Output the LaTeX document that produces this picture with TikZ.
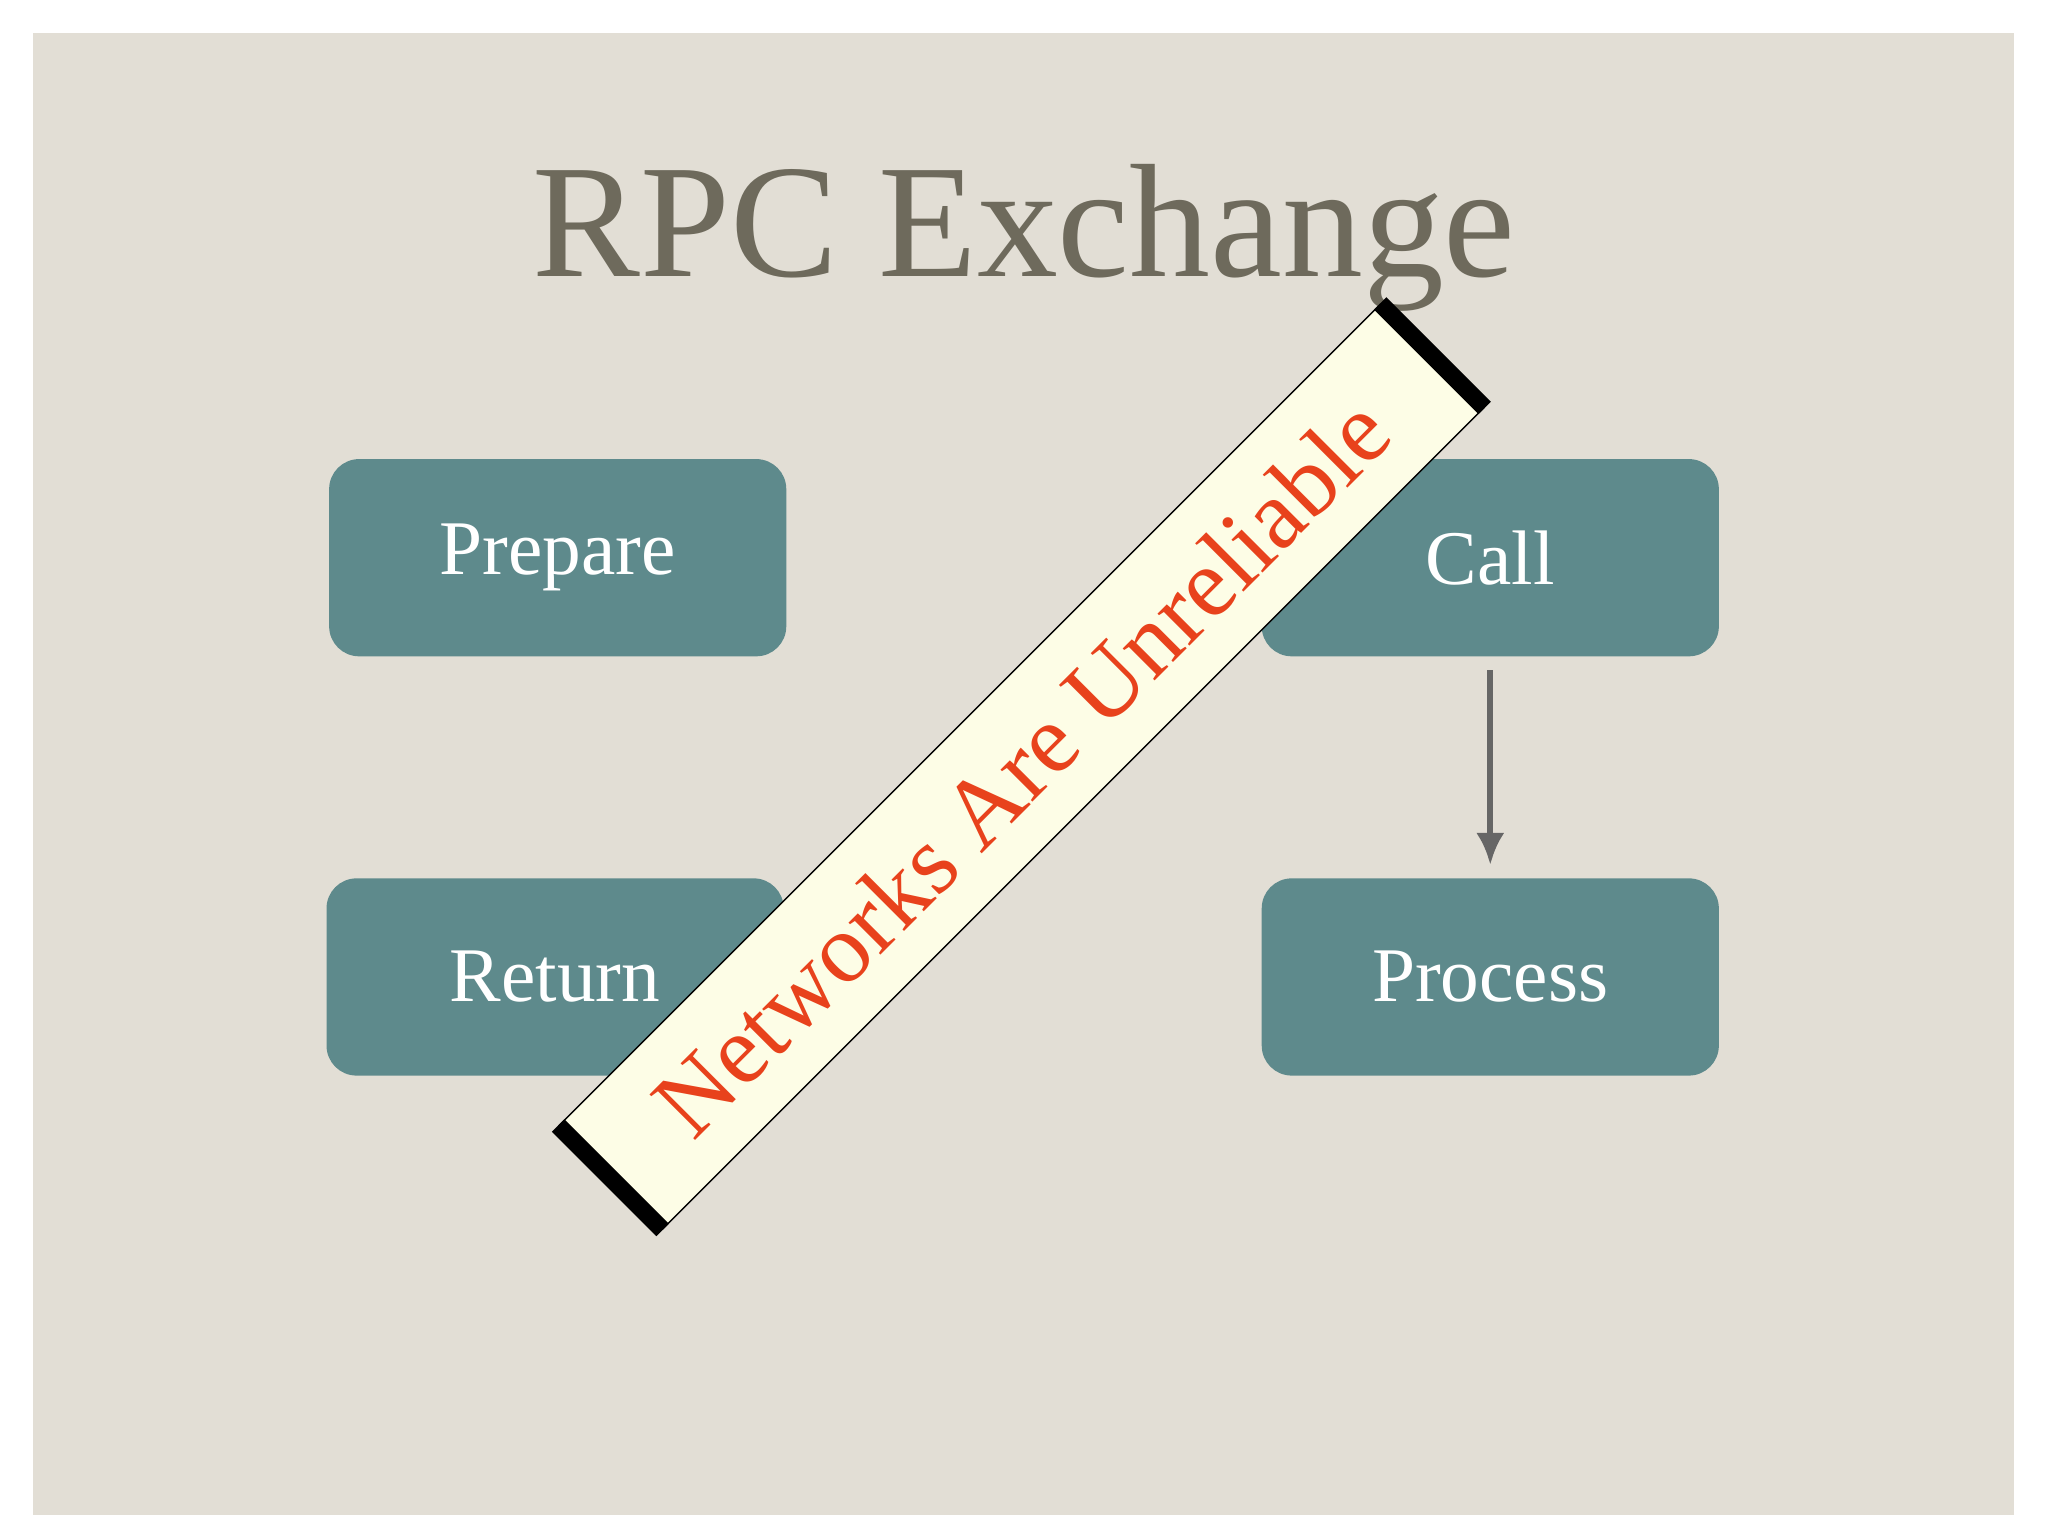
\documentclass[tikz,border=0pt]{standalone}
\usetikzlibrary{arrows.meta}
\usepackage{fontspec}
\setmainfont{Liberation Serif}
\definecolor{panel}{HTML}{E2DED5}
\definecolor{boxc}{HTML}{5E8A8C}
\definecolor{titlec}{HTML}{6E6A5C}
\definecolor{bann}{HTML}{FDFDE6}
\definecolor{redt}{HTML}{E8421C}
\begin{document}
\begin{tikzpicture}[x=0.01306cm,y=-0.01306cm,
 stepbox/.style={fill=boxc,rounded corners=0.3cm,minimum width=350*0.01306cm,minimum height=151*0.01306cm,text=white,font=\fontsize{22}{26}\selectfont}]
\useasboundingbox (0,0) rectangle (1568,1176);
\fill[white] (0,0) rectangle (1568,1176);
\fill[panel] (25,25) rectangle (1542,1160);
\node[text=titlec,font=\fontsize{46}{52}\selectfont] (title) at (784,182) {RPC Exchange};
\node[stepbox] (prep) at (427,427) {Prepare};
\node[stepbox] (call) at (1141,427) {Call};
\node[stepbox] (ret) at (425,748) {Return};
\node[stepbox] (proc) at (1141,748) {Process};
\draw[gray!80!black,line width=1.6pt,-{Latex[length=9pt,width=8pt]}] ([yshift=-10*0.01306cm]call.south) -- ([yshift=10*0.01306cm]proc.north);
\node[rotate=45,draw=black,fill=bann,minimum width=889*0.01306cm,minimum height=112*0.01306cm,inner sep=0pt,text=redt,font=\fontsize{28}{32}\selectfont] (ban) at (782,587) {Networks Are Unreliable};
\draw[line width=5pt] (ban.north west) -- (ban.south west);
\draw[line width=5pt] (ban.north east) -- (ban.south east);
\end{tikzpicture}
\end{document}
